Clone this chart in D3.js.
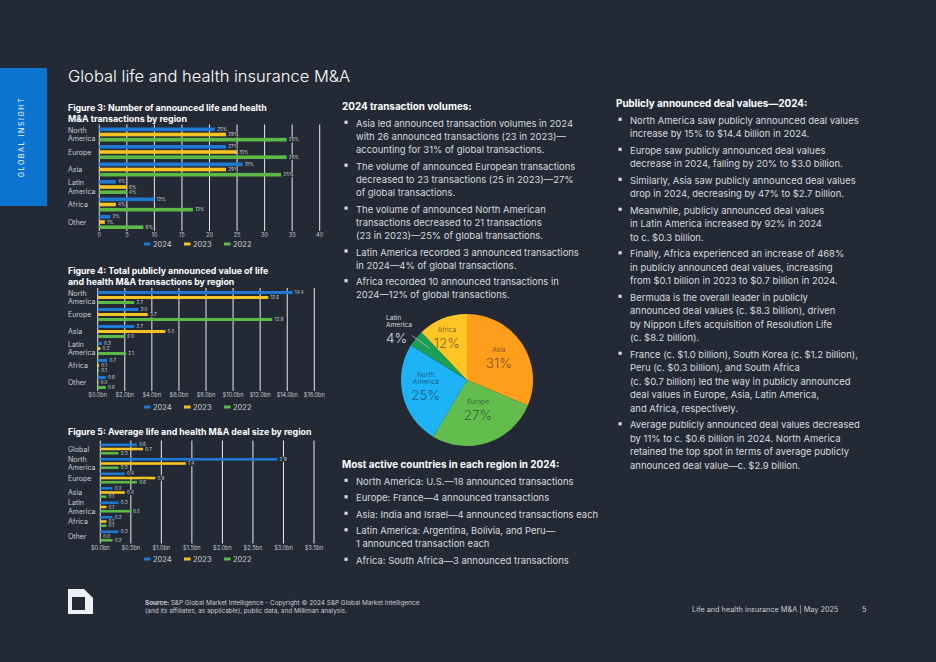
<!DOCTYPE html>
<html lang="en">
<head>
<meta charset="UTF-8">
<title>Global life and health insurance M&amp;A</title>
<script src="https://cdn.jsdelivr.net/npm/d3@7"></script>
<style>
  html, body { margin:0; padding:0; background:#242a35; }
  svg { display:block; font-family: Inter, "Noto Sans", sans-serif; }
  .grid { stroke:#ffffff; stroke-width:0.9; }
  .cat { fill:#c9ccd2; font-size:7px; }
  .tick { fill:#c2c6cc; font-size:5.6px; text-anchor:middle; }
  .val { fill:#d4d7dc; font-size:4.6px; }
  .leg { fill:#c9ccd2; font-size:7.5px; }
  .ftitle { fill:#ffffff; font-size:8.8px; font-weight:700; }
  .body { fill:#d7dadf; font-size:9.45px; }
  .head { fill:#ffffff; font-size:9.9px; font-weight:700; }
</style>
</head>
<body>
<svg id="page" width="936" height="662"></svg>
<script>
// ---- data ----
var years = ["2024", "2023", "2022"];
var yearColors = ["#1f78d1", "#f5c424", "#5cb947"];

// figure 3: number of announced transactions
var regions3 = ["North America", "Europe", "Asia", "Latin America", "Africa", "Other"];
var count2024 = [21, 23, 26, 3, 10, 2];
var count2023 = [23, 25, 23, 5, 3, 1];
var count2022 = [34, 34, 33, 5, 17, 8];
var share2024 = ["25%", "27%", "31%", "4%", "12%", "2%"];
var share2023 = ["29%", "31%", "29%", "6%", "4%", "1%"];
var share2022 = ["26%", "26%", "25%", "4%", "13%", "6%"];
var ticks3 = [0, 5, 10, 15, 20, 25, 30, 35, 40];

// figure 4: total announced value ($bn)
var regions4 = ["North America", "Europe", "Asia", "Latin America", "Africa", "Other"];
var value2024 = [14.4, 3.0, 2.7, 0.3, 0.7, 0.6];
var value2023 = [12.6, 3.7, 5.0, 0.2, 0.1, 0.0];
var value2022 = [2.7, 12.9, 2.0, 2.1, 0.1, 0.6];
var ticks4 = [0, 2, 4, 6, 8, 10, 12, 14, 16];

// figure 5: average deal size ($bn)
var regions5 = ["Global", "North America", "Europe", "Asia", "Latin America", "Africa", "Other"];
var size2024 = [0.6, 2.9, 0.4, 0.2, 0.3, 0.2, 0.3];
var size2023 = [0.7, 1.4, 0.9, 0.4, 0.1, 0.1, 0.0];
var size2022 = [0.3, 0.3, 0.6, 0.1, 0.5, 0.1, 0.2];
var ticks5 = [0, 0.5, 1, 1.5, 2, 2.5, 3, 3.5];

// pie: 2024 share of announced transactions
var pieRegions = ["Asia", "Europe", "North America", "Latin America", "Africa"];
var pieShares = [31, 27, 25, 4, 12];
var pieColors = ["#ff9e1b", "#62bd4c", "#1cb4f6", "#1c9f55", "#ffc524"];

var svg = d3.select("#page");
var bn = function(d){ return "$" + d.toFixed(1) + "bn"; };

// ---- page furniture ----
svg.append("rect").attr("x", 0).attr("y", 68).attr("width", 47).attr("height", 138).attr("fill", "#0a74d0");
svg.append("text").attr("transform", "translate(24,137) rotate(-90)")
  .attr("text-anchor", "middle").attr("fill", "#fff").style("font-size", "7px")
  .style("letter-spacing", "1.6px").text("GLOBAL INSIGHT");
svg.append("text").attr("x", 68).attr("y", 82).attr("fill", "#fff")
  .style("font-size", "16.5px").style("font-weight", 300)
  .text("Global life and health insurance M&A");

// ---- grouped horizontal bar charts ----
function barChart(cfg) {
  var g = svg.append("g");
  cfg.title.forEach(function(t, i){
    g.append("text").attr("class", "ftitle").attr("x", 68).attr("y", cfg.titleY + i * 11).text(t);
  });

  var n = cfg.cats.length;
  var pad = cfg.pitchPad;
  var y = d3.scaleBand().domain(cfg.cats).paddingInner(pad).paddingOuter(0)
    .range([cfg.top, cfg.top + cfg.pitch * (n - pad)]);
  var yi = d3.scaleBand().domain(years).paddingInner(cfg.innerPad).range([0, y.bandwidth()]);
  var x = d3.scaleLinear().domain([0, cfg.max]).range(cfg.xr);
  var y0 = y.range()[0] - 3, y1 = y.range()[1] + 2;

  g.selectAll("line.grid").data(cfg.ticks).join("line").attr("class", "grid")
    .attr("x1", function(d){ return x(d); }).attr("x2", function(d){ return x(d); })
    .attr("y1", y0).attr("y2", y1);
  g.selectAll("text.tick").data(cfg.ticks).join("text").attr("class", "tick")
    .attr("x", function(d){ return x(d); }).attr("y", y1 + 6).text(cfg.fmt);

  // category labels
  cfg.cats.forEach(function(c){
    var lines = c.indexOf(" ") > 0 ? c.split(" ") : [c];
    var cy = y(c) + y.bandwidth() / 2;
    lines.forEach(function(l, i){
      g.append("text").attr("class", "cat").attr("x", 68)
        .attr("y", cy + (i - (lines.length - 1) / 2) * 8.8 + 2.5).text(l);
    });
  });

  var rows = [];
  cfg.series.forEach(function(vals, s){
    vals.forEach(function(v, i){
      rows.push({cat: cfg.cats[i], year: years[s], v: v, color: yearColors[s],
                 label: cfg.labels ? cfg.labels[s][i] : v.toFixed(1)});
    });
  });

  g.selectAll("rect.bar").data(rows).join("rect").attr("class", "bar")
    .attr("x", x(0))
    .attr("y", function(d){ return y(d.cat) + yi(d.year); })
    .attr("width", function(d){ return Math.max(0.6, x(d.v) - x(0)); })
    .attr("height", yi.bandwidth())
    .attr("fill", function(d){ return d.color; });

  var lab = g.selectAll("g.val").data(rows).join("g").attr("class", "val")
    .attr("transform", function(d){
      return "translate(" + (Math.max(x(d.v), x(0) + 0.6) + 1.2) + "," + (y(d.cat) + yi(d.year) + yi.bandwidth() / 2) + ")";
    });
  lab.append("rect").attr("x", 0).attr("y", -2.6).attr("height", 5.2)
    .attr("width", function(d){ return d.label.length * 2.7 + 2; }).attr("fill", "#242a35");
  lab.append("text").attr("class", "val").attr("x", 1).attr("y", 1.6).text(function(d){ return d.label; });

  // legend
  var lx = [144, 184, 224];
  years.forEach(function(yr, i){
    g.append("rect").attr("x", lx[i]).attr("y", cfg.legendY - 1.5).attr("width", 6.5).attr("height", 3)
      .attr("fill", yearColors[i]);
    g.append("text").attr("class", "leg").attr("x", lx[i] + 9).attr("y", cfg.legendY + 2.7).text(yr);
  });
}

barChart({
  title: ["Figure 3: Number of announced life and health", "M&A transactions by region"],
  titleY: 111, cats: regions3, top: 127.5, pitch: 17.5, pitchPad: 0.2, innerPad: 0.3,
  max: 40, xr: [99.3, 319.7], ticks: ticks3, fmt: d3.format("d"),
  series: [count2024, count2023, count2022], labels: [share2024, share2023, share2022],
  legendY: 244
});

barChart({
  title: ["Figure 4: Total publicly announced value of life", "and health M&A transactions by region"],
  titleY: 273.5, cats: regions4, top: 291, pitch: 17, pitchPad: 0.235, innerPad: 0.4,
  max: 16, xr: [97.7, 314.3], ticks: ticks4, fmt: bn,
  series: [value2024, value2023, value2022],
  legendY: 407
});

barChart({
  title: ["Figure 5: Average life and health M&A deal size by region"],
  titleY: 435, cats: regions5, top: 443.5, pitch: 14.5, pitchPad: 0.24, innerPad: 0.38,
  max: 3.5, xr: [100.3, 314], ticks: ticks5, fmt: bn,
  series: [size2024, size2023, size2022],
  legendY: 559
});

// ---- pie ----
var cx = 467, cy = 380, R = 66;
var pie = d3.pie().sort(null).value(function(d){ return d; });
var arc = d3.arc().innerRadius(0).outerRadius(R);
var arcs = pie(pieShares);
var pg = svg.append("g").attr("transform", "translate(" + cx + "," + cy + ")");
pg.selectAll("path").data(arcs).join("path").attr("d", arc)
  .attr("fill", function(d, i){ return pieColors[i]; });

var labelArc = d3.arc().innerRadius(R * 0.58).outerRadius(R * 0.58);
arcs.forEach(function(a, i){
  var name = pieRegions[i];
  var lines = name.indexOf(" ") > 0 ? name.split(" ") : [name];
  var p, fill, op;
  if (name === "Latin America") {
    var e = d3.arc().innerRadius(R - 6).outerRadius(R + 6).centroid(a);
    var e2 = d3.arc().innerRadius(R - 14).outerRadius(R - 14).centroid(a);
    pg.append("line").attr("x1", e[0] - 4).attr("y1", e[1] - 3).attr("x2", e2[0] + 3).attr("y2", e2[1] + 1)
      .attr("stroke", "#b7bcc4").attr("stroke-width", 0.8);
    p = [-81, -47];
    fill = "#d7dadf"; op = 1;
  } else {
    p = labelArc.centroid(a);
    if (name === "Africa") p = [p[0] - 6, p[1] - 6];
    if (name === "North America") p = [p[0] - 4, p[1] + 1];
    if (name === "Europe") p = [p[0] - 1, p[1] - 6];
    fill = "#1b2230"; op = 0.62;
  }
  var anchor = name === "Latin America" ? "start" : "middle";
  lines.forEach(function(l, j){
    pg.append("text").attr("x", p[0]).attr("y", p[1] + (j - lines.length + 1) * 7 - 6.5)
      .attr("text-anchor", anchor).attr("fill", fill).attr("fill-opacity", op)
      .style("font-size", "6.6px").text(l);
  });
  pg.append("text").attr("x", p[0]).attr("y", p[1] + 9.5)
    .attr("text-anchor", anchor).attr("fill", fill).attr("fill-opacity", op)
    .style("font-size", "13.5px").style("font-weight", 300).text(pieShares[i] + "%");
});

// ---- text columns ----
function textBlock(x, headY, head, bullets, lh, gap) {
  svg.append("text").attr("class", "head").attr("x", x).attr("y", headY + 3.4).text(head);
  var yy = headY + gap;
  bullets.forEach(function(b){
    svg.append("rect").attr("x", x + 2.5).attr("y", yy - 2.8).attr("width", 3.2).attr("height", 3.2).attr("fill", "#d7dadf");
    b.forEach(function(l, i){
      svg.append("text").attr("class", "body").attr("x", x + 14).attr("y", yy + 3.3).text(l);
      if (i < b.length - 1) yy += lh;
    });
    yy += gap;
  });
}

textBlock(342, 107, "2024 transaction volumes:", [
  ["Asia led announced transaction volumes in 2024", "with 26 announced transactions (23 in 2023)\u2014", "accounting for 31% of global transactions."],
  ["The volume of announced European transactions", "decreased to 23 transactions (25 in 2023)\u201427%", "of global transactions."],
  ["The volume of announced North American", "transactions decreased to 21 transactions", "(23 in 2023)\u201425% of global transactions."],
  ["Latin America recorded 3 announced transactions", "in 2024\u20144% of global transactions."],
  ["Africa recorded 10 announced transactions in", "2024\u201412% of global transactions."]
], 13.2, 16.5);

textBlock(342, 465, "Most active countries in each region in 2024:", [
  ["North America: U.S.\u201418 announced transactions"],
  ["Europe: France\u20144 announced transactions"],
  ["Asia: India and Israel\u20144 announced transactions each"],
  ["Latin America: Argentina, Bolivia, and Peru\u2014", "1 announced transaction each"],
  ["Africa: South Africa\u20143 announced transactions"]
], 13, 16.5);

textBlock(616, 104, "Publicly announced deal values\u20142024:", [
  ["North America saw publicly announced deal values", "increase by 15% to $14.4 billion in 2024."],
  ["Europe saw publicly announced deal values", "decrease in 2024, falling by 20% to $3.0 billion."],
  ["Similarly, Asia saw publicly announced deal values", "drop in 2024, decreasing by 47% to $2.7 billion."],
  ["Meanwhile, publicly announced deal values", "in Latin America increased by 92% in 2024", "to c. $0.3 billion."],
  ["Finally, Africa experienced an increase of 468%", "in publicly announced deal values, increasing", "from $0.1 billion in 2023 to $0.7 billion in 2024."],
  ["Bermuda is the overall leader in publicly", "announced deal values (c. $8.3 billion), driven", "by Nippon Life\u2019s acquisition of Resolution Life", "(c. $8.2 billion)."],
  ["France (c. $1.0 billion), South Korea (c. $1.2 billion),", "Peru (c. $0.3 billion), and South Africa", "(c. $0.7 billion) led the way in publicly announced", "deal values in Europe, Asia, Latin America,", " and Africa, respectively."],
  ["Average publicly announced deal values decreased", "by 11% to c. $0.6 billion in 2024. North America", "retained the top spot in terms of average publicly", "announced deal value\u2014c. $2.9 billion."]
], 13.5, 16.5);

// ---- footer ----
svg.append("path").attr("d", "M68,589 L84,589 L93,598 L93,614 L68,614 Z").attr("fill", "#eef0f3");
svg.append("rect").attr("x", 72).attr("y", 597).attr("width", 13).attr("height", 13).attr("fill", "#242a35");
var src = svg.append("text").attr("x", 145).attr("y", 605).attr("fill", "#c9ccd2").style("font-size", "6.4px");
src.append("tspan").style("font-weight", 700).text("Source: ");
src.append("tspan").text("S&P Global Market Intelligence - Copyright \u00a9 2024 S&P Global Market Intelligence");
svg.append("text").attr("x", 145).attr("y", 612.5).attr("fill", "#c9ccd2").style("font-size", "6.4px")
  .text("(and its affiliates, as applicable), public data, and Milliman analysis.");
svg.append("text").attr("x", 692).attr("y", 612).attr("fill", "#c9ccd2").style("font-size", "7.3px")
  .text("Life and health insurance M&A | May 2025");
svg.append("text").attr("x", 862).attr("y", 612).attr("fill", "#c9ccd2").style("font-size", "7.3px").text("5");
</script>
</body>
</html>
